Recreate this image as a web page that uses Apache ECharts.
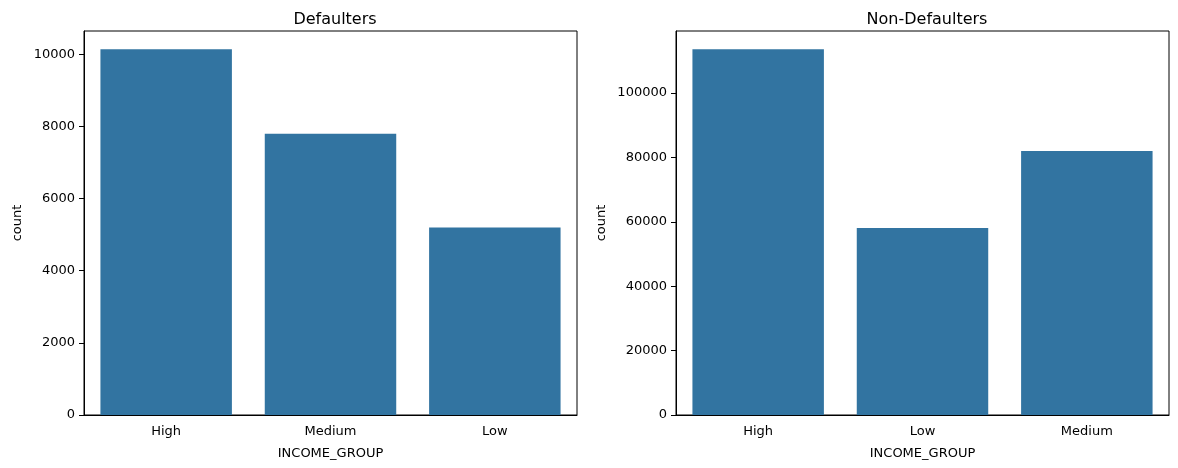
<!DOCTYPE html>
<html><head><meta charset="utf-8">
<script src="https://cdn.jsdelivr.net/npm/echarts@6/dist/echarts.min.js"></script>
<style>html,body{margin:0;padding:0;background:#fff}#c{width:1178px;height:468px}</style>
</head><body><div id="c"></div>
<script>
const titles = ['Defaulters', 'Non-Defaulters'];
const catsDef = ['High', 'Medium', 'Low'];
const valsDef = [10140, 7795, 5198];
const catsNon = ['High', 'Low', 'Medium'];
const valsNon = [113550, 58050, 82000];
const intervals = [2000, 20000];

const font = 'DejaVu Sans';
const chart = echarts.init(document.getElementById('c'), null, {renderer: 'canvas'});
const grids = [
  {left: 84, width: 493, top: 31, bottom: 53},
  {left: 676, width: 493, top: 31, bottom: 53}
];
function xAxis(i, cats) {
  return {
    type: 'category', gridIndex: i, data: cats,
    boundaryGap: true,
    name: 'INCOME_GROUP', nameLocation: 'middle', nameGap: 32,
    nameTextStyle: {fontFamily: font, fontSize: 13, color: '#000'},
    axisLine: {lineStyle: {color: '#000', width: 1}},
    axisTick: {alignWithLabel: true, length: 5, lineStyle: {color: '#000'}},
    axisLabel: {fontFamily: font, fontSize: 13, color: '#000', margin: 10}
  };
}
function yAxis(i) {
  return {
    type: 'value', gridIndex: i, min: 0, interval: intervals[i],
    max: v => v.max * 1.05,
    name: 'count', nameLocation: 'middle', nameGap: i === 0 ? 60 : 68,
    nameTextStyle: {fontFamily: font, fontSize: 13, color: '#000'},
    axisLine: {show: true, lineStyle: {color: '#000', width: 1}},
    axisTick: {show: true, length: 5, lineStyle: {color: '#000'}},
    axisLabel: {fontFamily: font, fontSize: 13, color: '#000', margin: 9,
      showMaxLabel: false, formatter: v => String(v)},
    splitLine: {show: false}
  };
}
chart.setOption({
  animation: false,
  title: [
    {text: titles[0], left: 330, top: 7, textAlign: 'center',
     textStyle: {fontFamily: font, fontSize: 16, fontWeight: 'normal', color: '#000'}},
    {text: titles[1], left: 922, top: 7, textAlign: 'center',
     textStyle: {fontFamily: font, fontSize: 16, fontWeight: 'normal', color: '#000'}}
  ],
  grid: grids.map(g => Object.assign({show: true, borderColor: '#000', borderWidth: 1, backgroundColor: 'transparent'}, g)),
  xAxis: [xAxis(0, catsDef), xAxis(1, catsNon)],
  yAxis: [yAxis(0), yAxis(1)],
  series: [
    {type: 'bar', xAxisIndex: 0, yAxisIndex: 0, data: valsDef, barCategoryGap: '20%',
     itemStyle: {color: '#3274a1'}},
    {type: 'bar', xAxisIndex: 1, yAxisIndex: 1, data: valsNon, barCategoryGap: '20%',
     itemStyle: {color: '#3274a1'}}
  ]
});
</script></body></html>
